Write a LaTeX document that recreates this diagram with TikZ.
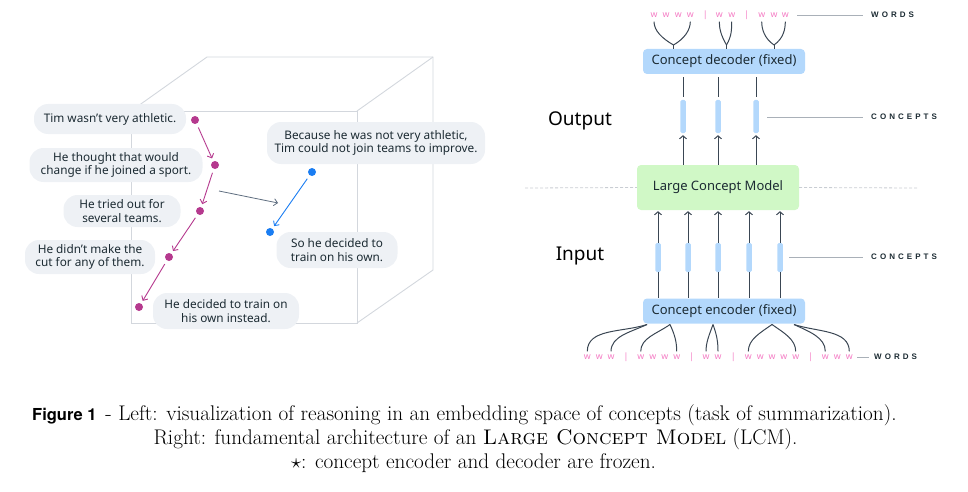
\documentclass[tikz,border=0pt]{standalone}
\usepackage{fontspec}
\usetikzlibrary{arrows.meta}
\newfontfamily\uifont{Noto Sans}
\newfontfamily\lblfont[LetterSpace=38]{Liberation Sans}
\newfontfamily\figfont{TeX Gyre Heros}
\definecolor{bubblefill}{HTML}{EEF1F5}
\definecolor{cubec}{HTML}{D3D7DD}
\definecolor{purp}{HTML}{B5398E}
\definecolor{bluec}{HTML}{1A7DF2}
\definecolor{grayarr}{HTML}{5E6D7F}
\definecolor{txt}{HTML}{1C2B33}
\definecolor{lblue}{HTML}{B3D8FC}
\definecolor{lgreen}{HTML}{D0F8C6}
\definecolor{pinkw}{HTML}{F47CC4}
\definecolor{dline}{HTML}{3A4653}
\definecolor{guide}{HTML}{A9B0B8}
\definecolor{dashc}{HTML}{C9CDD3}
\begin{document}
\begin{tikzpicture}[x=1pt,y=-1pt,
  bubble/.style={fill=bubblefill, rounded corners=14pt, inner sep=0pt, align=center, text=txt, font=\uifont\fontsize{11.8}{13.5}\selectfont},
  pdot/.style={circle, fill=purp, inner sep=0pt, minimum size=8pt},
  bdot/.style={circle, fill=bluec, inner sep=0pt, minimum size=8pt},
  parrow/.style={draw=purp, line width=0.9pt, -{Straight Barb[length=3.5pt,width=7pt]}, shorten >=3pt, shorten <=4pt},
  barrow/.style={draw=bluec, line width=0.9pt, -{Straight Barb[length=3.5pt,width=7pt]}, shorten >=3pt, shorten <=4pt},
  cube/.style={draw=cubec, line width=0.9pt},
  wd/.style={text=pinkw, font=\uifont\fontsize{8.8}{9}\selectfont, inner sep=0pt},
  cbar/.style={fill=lblue, rounded corners=1.5pt, minimum width=5.5pt, inner sep=0pt},
  box/.style={fill=lblue, rounded corners=4pt, minimum width=162pt, minimum height=25pt, text=txt, font=\uifont\fontsize{13}{15}\selectfont, inner sep=0pt},
  conn/.style={draw=dline, line width=1pt},
  uparr/.style={conn, -{Straight Barb[length=3pt,width=7pt]}},
  lbl/.style={font=\lblfont\bfseries\fontsize{8}{9}\selectfont, text=txt, inner sep=0pt, anchor=west},
  guideline/.style={draw=guide, line width=0.8pt},
  side/.style={font=\uifont\fontsize{19}{21}\selectfont, text=black, inner sep=0pt},
  capt/.style={font=\fontsize{21.2}{24}\selectfont, inner sep=0pt, anchor=base}
]
\useasboundingbox (0,0) rectangle (968,492);

% ---------- cube ----------
\draw[cube] (131,111) rectangle (357,323);
\draw[cube] (131,111) -- (207,57) -- (433,57) -- (433,270) -- (357,323);
\draw[cube] (357,111) -- (433,57);

% ---------- bubbles ----------
\node[bubble, minimum width=152pt, minimum height=30pt] (s1) at (110,119) {Tim wasn’t very athletic.};
\node[bubble, minimum width=173pt, minimum height=34pt] (s2) at (116,165) {He thought that would\\change if he joined a sport.};
\node[bubble, minimum width=117pt, minimum height=32pt] (s3) at (122,211) {He tried out for\\several teams.};
\node[bubble, minimum width=130pt, minimum height=34pt] (s4) at (90,257) {He didn’t make the\\cut for any of them.};
\node[bubble, minimum width=146pt, minimum height=36pt] (s5) at (226,311) {He decided to train on\\his own instead.};
\node[bubble, minimum width=218pt, minimum height=42pt] (s6) at (376,143) {Because he was not very athletic,\\Tim could not join teams to improve.};
\node[bubble, minimum width=121pt, minimum height=36pt] (s7) at (337,250) {So he decided to\\train on his own.};

% ---------- dots ----------
\node[pdot] (d1) at (195,120) {};
\node[pdot] (d2) at (215,165) {};
\node[pdot] (d3) at (200,211) {};
\node[pdot] (d4) at (169,257) {};
\node[pdot] (d5) at (139,307) {};
\draw[parrow] (d1) -- (d2);
\draw[parrow] (d2) -- (d3);
\draw[parrow] (d3) -- (d4);
\draw[parrow] (d4) -- (d5);

\node[bdot] (b1) at (312,172) {};
\node[bdot] (b2) at (270,232) {};
\draw[barrow] (b1) -- (b2);

\coordinate (ga1) at (219,191);
\coordinate (ga2) at (278,203);
\draw[draw=grayarr, line width=0.8pt, -{Straight Barb[length=3.5pt,width=7pt]}] (ga1) -- (ga2);

% ---------- right: top words ----------
\node[wd] (tw1) at (654,15) {w};
\node[wd] (tw2) at (666,15) {w};
\node[wd] (tw3) at (678.3,15) {w};
\node[wd] (tw4) at (690.3,15) {w};
\node[wd] (tp1) at (705.3,15) {|};
\node[wd] (tw5) at (719.3,15) {w};
\node[wd] (tw6) at (731.7,15) {w};
\node[wd] (tp2) at (746.7,15) {|};
\node[wd] (tw7) at (761.7,15) {w};
\node[wd] (tw8) at (774,15) {w};
\node[wd] (tw9) at (785.3,15) {w};
\coordinate (twl) at (797,15);
\node[lbl] (lw1) at (871,15) {WORDS};
\draw[guideline, shorten >=8pt] (twl) -- (lw1.west);

% decoder
\node[box] (dec) at (724,61.5) {Concept decoder (fixed)};
\coordinate (dj1) at (673.5,45);
\coordinate (dj2) at (726.5,45);
\coordinate (dj3) at (774,45);
\draw[conn, shorten <=4pt] (tw1.south) to[out=-90,in=150] (dj1);
\draw[conn, shorten <=4pt] (tw4.south) to[out=-90,in=30] (dj1);
\draw[conn] (dj1) -- (dj1 |- dec.north);
\draw[conn, shorten <=4pt] (tw5.south) to[out=-90,in=120] (dj2);
\draw[conn, shorten <=4pt] (tw6.south) to[out=-90,in=60] (dj2);
\draw[conn] (dj2) -- (dj2 |- dec.north);
\draw[conn, shorten <=4pt] (tw7.south) to[out=-90,in=145] (dj3);
\draw[conn, shorten <=4pt] (tw9.south) to[out=-90,in=35] (dj3);
\draw[conn] (dj3) -- (dj3 |- dec.north);

% output concepts
\node[cbar, minimum height=33pt] (co1) at (683,116.5) {};
\node[cbar, minimum height=33pt] (co2) at (718,116.5) {};
\node[cbar, minimum height=33pt] (co3) at (756,116.5) {};
\foreach \c in {co1,co2,co3}{
  \draw[conn, shorten <=3pt, shorten >=3pt] (dec.south -| \c) -- (\c.north);
}
\coordinate (lc1) at (767,117);
\node[lbl] (lco) at (871,117) {CONCEPTS};
\draw[guideline, shorten >=8pt] (lc1) -- (lco.west);
\node[side] (outl) at (580,121) {Output};

% LCM
\node[box, fill=lgreen, minimum height=45pt] (lcm) at (718,187.5) {Large Concept Model};
\foreach \c in {co1,co2,co3}{
  \draw[uparr, shorten >=2pt] (lcm.north -| \c) -- (\c.south);
}
\coordinate (dl1) at (525,188);
\coordinate (dl2) at (917,188);
\draw[draw=dashc, line width=0.8pt, dash pattern=on 3pt off 2pt] (dl1) -- (lcm.west);
\draw[draw=dashc, line width=0.8pt, dash pattern=on 3pt off 2pt] (lcm.east) -- (dl2);

% input concepts
\node[cbar, minimum height=29pt] (ci1) at (658,257.5) {};
\node[cbar, minimum height=29pt] (ci2) at (688,257.5) {};
\node[cbar, minimum height=29pt] (ci3) at (718,257.5) {};
\node[cbar, minimum height=29pt] (ci4) at (749,257.5) {};
\node[cbar, minimum height=29pt] (ci5) at (780,257.5) {};
\node[box] (enc) at (724,311) {Concept encoder (fixed)};
\foreach \c in {ci1,ci2,ci3,ci4,ci5}{
  \draw[uparr, shorten >=1pt] (\c.north) -- (\c |- lcm.south);
  \draw[conn] (\c.south) -- (\c |- enc.north);
}
\coordinate (lc2) at (789,257);
\node[lbl] (lci) at (871,257) {CONCEPTS};
\draw[guideline, shorten >=8pt] (lc2) -- (lci.west);
\node[side] (inl) at (580,256) {Input};

% bottom words
\node[wd] (bw1) at (587.3,357) {w};
\node[wd] (bw2) at (599.3,357) {w};
\node[wd] (bw3) at (611,357) {w};
\node[wd] (bp1) at (626,357) {|};
\node[wd] (bw4) at (640.7,357) {w};
\node[wd] (bw5) at (652.7,357) {w};
\node[wd] (bw6) at (664.7,357) {w};
\node[wd] (bw7) at (676.7,357) {w};
\node[wd] (bp2) at (691.7,357) {|};
\node[wd] (bw8) at (706,357) {w};
\node[wd] (bw9) at (718,357) {w};
\node[wd] (bp3) at (733.3,357) {|};
\node[wd] (bw10) at (748.3,357) {w};
\node[wd] (bw11) at (760.3,357) {w};
\node[wd] (bw12) at (772,357) {w};
\node[wd] (bw13) at (783.7,357) {w};
\node[wd] (bw14) at (795.7,357) {w};
\node[wd] (bp4) at (810.7,357) {|};
\node[wd] (bw15) at (825.3,357) {w};
\node[wd] (bw16) at (837.3,357) {w};
\node[wd] (bw17) at (849.3,357) {w};
\coordinate (lbw) at (857,357);
\node[lbl] (lbwd) at (874,357) {WORDS};
\draw[guideline, shorten >=5pt] (lbw) -- (lbwd.west);

\coordinate (ej1) at (647,324.5);
\coordinate (ej2) at (670,324.5);
\coordinate (ej3) at (713,324.5);
\coordinate (ej4) at (772,324.5);
\coordinate (ej5) at (794,324.5);
\draw[conn, shorten <=3pt] (bw1.north) to[out=90,in=198] (ej1);
\draw[conn, shorten <=3pt] (bw3.north) to[out=90,in=205] (ej1);
\draw[conn, shorten <=3pt] (bw4.north) to[out=90,in=215] (ej2);
\draw[conn, shorten <=3pt] (bw7.north) to[out=90,in=-65] (ej2);
\draw[conn, shorten <=3pt] (bw8.north) to[out=90,in=-110] (ej3);
\draw[conn, shorten <=3pt] (bw9.north) to[out=90,in=-70] (ej3);
\draw[conn, shorten <=3pt] (bw10.north) to[out=90,in=215] (ej4);
\draw[conn, shorten <=3pt] (bw14.north) to[out=90,in=-35] (ej4);
\draw[conn, shorten <=3pt] (bw15.north) to[out=90,in=-25] (ej5);
\draw[conn, shorten <=3pt] (bw17.north) to[out=90,in=-18] (ej5);

% ---------- caption ----------
\node[capt, anchor=base west] (cap1) at (32,420) {{\figfont\bfseries\fontsize{16.5}{20}\selectfont Figure 1}\hspace{9pt}- Left: visualization of reasoning in an embedding space of concepts (task of summarization).};
\node[capt] (cap2) at (475.5,444.5) {Right: fundamental architecture of an \textsc{Large Concept Model} (LCM).};
\node[capt] (cap3) at (473.5,468.5) {$\star$: concept encoder and decoder are frozen.};
\end{tikzpicture}
\end{document}
